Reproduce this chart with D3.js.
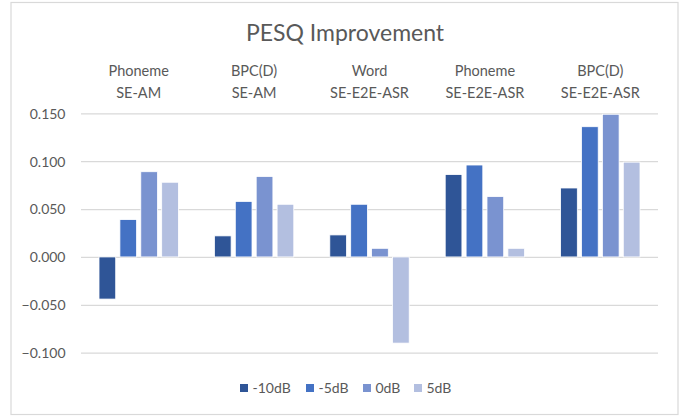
<!DOCTYPE html>
<html><head><meta charset="utf-8">
<script src="https://cdn.jsdelivr.net/npm/d3@7"></script>
<style>body{margin:0;background:#fff}svg{display:block}text{font-family:Lato,"Open Sans",sans-serif;fill:#595959}</style>
</head><body>
<script>
const categories = [["Phoneme","SE-AM"],["BPC(D)","SE-AM"],["Word","SE-E2E-ASR"],["Phoneme","SE-E2E-ASR"],["BPC(D)","SE-E2E-ASR"]];
const seriesNames = ["-10dB","-5dB","0dB","5dB"];
const s_m10 = [-0.044, 0.022, 0.023, 0.086, 0.072];
const s_m5  = [0.039, 0.058, 0.055, 0.096, 0.136];
const s_0   = [0.089, 0.084, 0.009, 0.063, 0.149];
const s_5   = [0.078, 0.055, -0.090, 0.009, 0.099];
const yTicks = [-0.100, -0.050, 0.000, 0.050, 0.100, 0.150];
const colors = ["#2F5597","#4472C4","#7A93D0","#B3BFE0"];
const series = [s_m10, s_m5, s_0, s_5];

const W = 691, H = 417;
const svg = d3.select("body").append("svg").attr("width", W).attr("height", H);
svg.append("rect").attr("x",11).attr("y",2.5).attr("width",667).attr("height",412)
  .attr("fill","#fff").attr("stroke","#d9d9d9").attr("stroke-width",1.2);

const x0 = d3.scaleBand().domain(d3.range(categories.length)).range([81, 658]).paddingInner(0.312).paddingOuter(0.156);
const x1 = d3.scaleBand().domain(d3.range(seriesNames.length)).range([0, x0.bandwidth()]).paddingInner(0.2);
const y = d3.scaleLinear().domain([-0.100, 0.150]).range([352.7, 113.3]);

// gridlines
const yAxis = d3.axisLeft(y).tickValues(yTicks).tickFormat(d3.format(".3f")).tickSize(-(658-81)).tickPadding(15.5);
const gy = svg.append("g").attr("transform","translate(81,0)").call(yAxis);
gy.select(".domain").remove();
gy.selectAll(".tick line").attr("stroke","#d9d9d9").attr("stroke-width",1.2);
gy.selectAll(".tick text").style("font-size","14px").attr("fill","#595959").attr("dy","0.35em");

// bars
series.forEach((vals, si) => {
  svg.append("g").selectAll("rect").data(vals).join("rect")
    .attr("x", (d,i) => x0(i) + x1(si))
    .attr("width", x1.bandwidth())
    .attr("y", d => y(Math.max(0,d)))
    .attr("height", d => Math.abs(y(d) - y(0)))
    .attr("fill", colors[si])
    .attr("stroke","#fff").attr("stroke-width",0.8);
});

// title
svg.append("text").attr("x",345).attr("y",41).attr("text-anchor","middle")
  .style("font-size","23px").text("PESQ Improvement");

// category labels on top
categories.forEach((c,i) => {
  const cx = x0(i) + x0.bandwidth()/2;
  c.forEach((line,j) => {
    svg.append("text").attr("x",cx).attr("y",76 + j*21.5).attr("text-anchor","middle")
      .style("font-size","14.5px").text(line);
  });
});

// legend
const legX = [240, 306, 363, 414];
seriesNames.forEach((n,i) => {
  const g = svg.append("g").attr("transform",`translate(${legX[i]},388)`);
  g.append("rect").attr("x",0).attr("y",-4).attr("width",8).attr("height",8).attr("fill",colors[i]);
  g.append("text").attr("x",12.5).attr("y",0).attr("dy","0.35em").style("font-size","14px").text(n);
});
</script>
</body></html>
